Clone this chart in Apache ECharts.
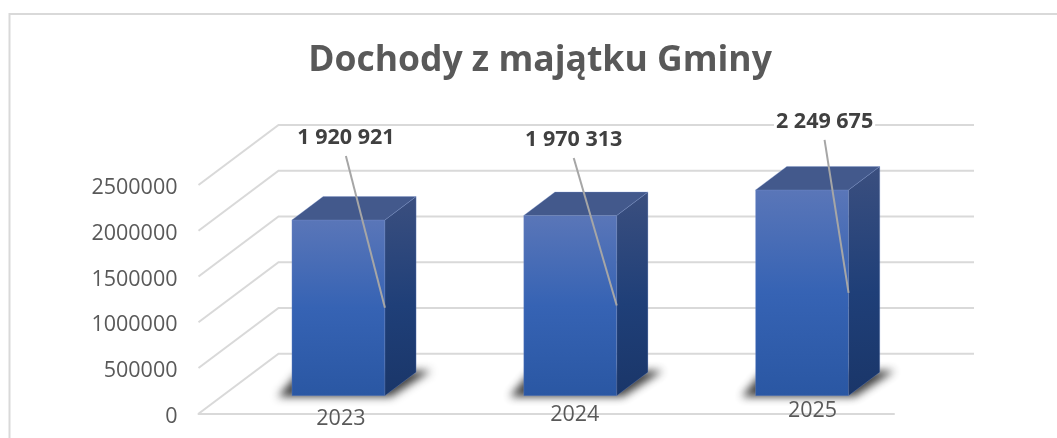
<!DOCTYPE html>
<html>
<head>
<meta charset="utf-8">
<title>Dochody z majątku Gminy</title>
<style>
	html, body { margin: 0; padding: 0; background: #fff; }
	#chart { width: 1057px; height: 438px; }
</style>
<script src="https://cdn.jsdelivr.net/npm/echarts@6/dist/echarts.min.js"></script>
</head>
<body>
<div id="chart"></div>
<script>
const categories = ['2023', '2024', '2025'];
const values = [1920921, 1970313, 2249675];
const valueLabels = ['1 920 921', '1 970 313', '2 249 675'];
const yTicks = [0, 500000, 1000000, 1500000, 2000000, 2500000];

// fake 3d: how far the back wall sits from the front plane, in px
const wallDx = 80;
const wallDy = -60;
const barDepthStart = 0.3;
const barDepth = 0.39;
const barWidthRatio = 0.401;
// hand-dragged labels of the original, px from the bar's top right front corner
const labelOffsets = [[-39, -82], [-43, -75.5], [-24, -68]];
const catLabelOffsets = [[-44, 23], [-42, 19], [-36, 15]];
// the shadow shape sits off canvas, only its blurred shadow lands on the floor
const SHADOW_SHIFT = 3000;

const FONT = '"Open Sans", "Noto Sans", sans-serif';
const GRID_LINE = '#d9d9d9';

function poly(points, fill, extra) {
	return {
		type: 'polygon',
		shape: { points },
		style: Object.assign({ fill }, extra || {}),
	};
}

function vGrad(stops) {
	return new echarts.graphic.LinearGradient(0, 0, 0, 1, stops);
}

function renderWall(params, api) {
	const cs = params.coordSys;
	const y = api.coord([0, api.value(1)])[1];
	const x0 = cs.x;
	const x1 = cs.x + wallDx;
	const x2 = cs.x + cs.width + wallDx;
	return {
		type: 'polyline',
		shape: { points: [[x0, y], [x1, y + wallDy], [x2, y + wallDy]] },
		style: { fill: 'none', stroke: GRID_LINE, lineWidth: 2 },
	};
}

function renderBar(params, api) {
	const i = api.value(0);
	const val = api.value(1);
	const band = api.size([1, 0])[0];
	const w = band * barWidthRatio;
	const base = api.coord([i, 0]);
	const top = api.coord([i, val]);
	const mid = api.coord([i, val / 2]);

	const shiftX = wallDx * barDepthStart;
	const shiftY = wallDy * barDepthStart;
	const dx = wallDx * barDepth;
	const dy = wallDy * barDepth;

	const l = base[0] + shiftX - w / 2;
	const r = l + w;
	const b = base[1] + shiftY;
	const t = top[1] + shiftY;

	const edge = { stroke: 'rgba(120,145,205,0.3)', lineWidth: 1, lineJoin: 'round' };
	const off = labelOffsets[i];
	const catOff = catLabelOffsets[i];
	const labelX = r + off[0];
	const labelY = t + off[1];
	const s = SHADOW_SHIFT;

	return {
		type: 'group',
		children: [
			poly([[l - 14 - s, b + 1], [r + 6 - s, b + 1], [r + 46 - s, b - 25], [l + 8 - s, b - 25]], '#000', {
				shadowBlur: 9,
				shadowOffsetX: s,
				shadowColor: 'rgba(30,30,30,0.85)',
			}),
			poly([[l, b], [r, b], [r, t], [l, t]], vGrad([
				{ offset: 0, color: '#5a76b8' },
				{ offset: 0.5, color: '#3663b4' },
				{ offset: 1, color: '#2a57a3' },
			]), edge),
			poly([[r, b], [r + dx, b + dy], [r + dx, t + dy], [r, t]], new echarts.graphic.LinearGradient(0, 0, 0.25, 1, [
				{ offset: 0, color: '#3b4f7f' },
				{ offset: 0.55, color: '#1f3f78' },
				{ offset: 1, color: '#1a3669' },
			]), edge),
			poly([[l, t], [r, t], [r + dx, t + dy], [l + dx, t + dy]], '#43598c', edge),
			{
				type: 'line',
				shape: { x1: labelX, y1: labelY + 18, x2: r, y2: mid[1] + shiftY },
				style: { stroke: '#a6a6a6', lineWidth: 2 },
			},
			{
				type: 'text',
				style: {
					x: labelX,
					y: labelY,
					text: valueLabels[i],
					fill: '#404040',
					font: 'bold 21.5px ' + FONT,
					align: 'center',
					verticalAlign: 'middle',
					backgroundColor: '#fff',
					padding: [0, 2],
				},
			},
			{
				type: 'text',
				style: {
					x: r + catOff[0],
					y: b + catOff[1],
					text: categories[i],
					fill: '#595959',
					font: '21.5px ' + FONT,
					align: 'center',
					verticalAlign: 'middle',
				},
			},
		],
	};
}

const chart = echarts.init(document.getElementById('chart'), null, { renderer: 'canvas' });
chart.setOption({
	animation: false,
	backgroundColor: '#fff',
	title: {
		text: 'Dochody z majątku Gminy',
		left: 535,
		top: 38,
		textAlign: 'center',
		textStyle: { color: '#595959', fontFamily: FONT, fontWeight: 'bold', fontSize: 35.5 },
	},
	grid: { left: 198.5, right: 163, top: 185, bottom: 24.3 },
	xAxis: {
		type: 'category',
		data: categories,
		axisTick: { show: false },
		axisLabel: { show: false },
		axisLine: { lineStyle: { color: GRID_LINE, width: 2 } },
		splitLine: { show: false },
	},
	yAxis: {
		type: 'value',
		min: 0,
		max: 2500000,
		interval: 500000,
		axisLine: { show: false },
		axisTick: { show: false },
		splitLine: { show: false },
		axisLabel: {
			margin: 21,
			color: '#595959',
			fontFamily: FONT,
			fontSize: 21.5,
			// labels sit a little under the tick in the original
			verticalAlign: 'top',
			lineHeight: 6,
			formatter: (value) => String(value),
		},
	},
	graphic: [
		{
			type: 'polyline',
			silent: true,
			shape: { points: [[9.5, 438], [9.5, 14], [1057, 14]] },
			style: { fill: 'none', stroke: GRID_LINE, lineWidth: 2 },
		},
	],
	series: [
		{
			type: 'custom',
			z: 1,
			silent: true,
			clip: false,
			renderItem: renderWall,
			encode: { x: 0, y: 1 },
			data: yTicks.map((tick) => [0, tick]),
		},
		{
			type: 'custom',
			z: 3,
			silent: true,
			clip: false,
			renderItem: renderBar,
			encode: { x: 0, y: 1 },
			data: values.map((value, i) => [i, value]),
		},
	],
});
</script>
</body>
</html>
